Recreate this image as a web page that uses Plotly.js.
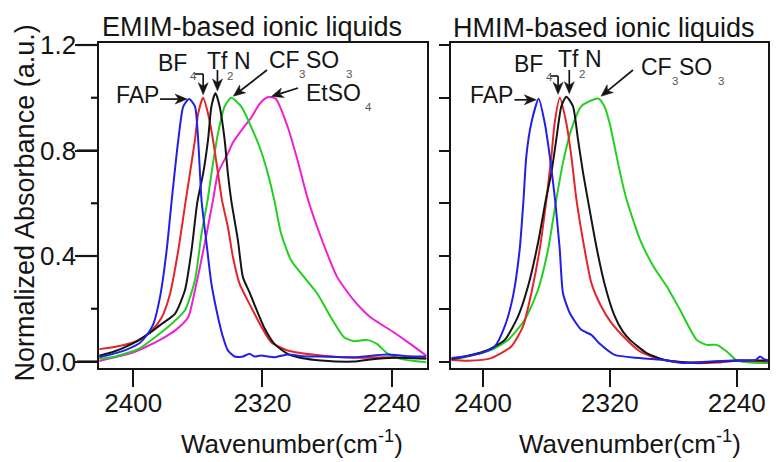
<!DOCTYPE html>
<html><head><meta charset="utf-8">
<script src="https://cdn.plot.ly/plotly-3.0.1.min.js"></script>
<style>html,body{margin:0;padding:0;background:#fff}</style>
</head><body><div id="chart" style="width:783px;height:462px"></div>
<script>
// ---------------- DATA ----------------
// EMIM-based ionic liquids
const emimFapW = [2421, 2413, 2403, 2396, 2392.6, 2387.5, 2383.4, 2379.3, 2376.2, 2372.1, 2369, 2365.4, 2361.8, 2359.8, 2357.7, 2354.6, 2351.6, 2347.5, 2344.4, 2341.4, 2337.2, 2332.1, 2328, 2324.9, 2320.8, 2316, 2312.6, 2304.4, 2295, 2283.9, 2263.4, 2242.9, 2230, 2218.5];
const emimFapA = [0.016, 0.028, 0.048, 0.07, 0.092, 0.143, 0.245, 0.422, 0.61, 0.84, 0.967, 0.995, 0.967, 0.84, 0.61, 0.447, 0.295, 0.168, 0.092, 0.042, 0.019, 0.019, 0.029, 0.019, 0.023, 0.018, 0.016, 0.027, 0.02, 0.019, 0.016, 0.027, 0.02, 0.019];

const emimBf4W = [2421, 2407, 2396.7, 2388.5, 2382.3, 2377.2, 2372.1, 2367.5, 2364.9, 2361.8, 2359.8, 2356.7, 2353.7, 2350.6, 2347.5, 2345, 2341.4, 2338.3, 2334.2, 2327, 2320.5, 2314.6, 2304.4, 2283.9, 2263.4, 2242.9, 2218.5];
const emimBf4A = [0.047, 0.061, 0.08, 0.118, 0.168, 0.257, 0.422, 0.61, 0.713, 0.84, 0.94, 1.0, 0.94, 0.84, 0.713, 0.61, 0.51, 0.397, 0.295, 0.206, 0.13, 0.073, 0.042, 0.023, 0.014, 0.016, 0.011];

const emimTf2nW = [2421, 2413.1, 2400.8, 2390.6, 2382.3, 2374.2, 2368, 2363.9, 2360.3, 2356.7, 2353.7, 2351.6, 2349.1, 2346.5, 2343.4, 2341.4, 2339.3, 2335.2, 2332.1, 2328, 2324.9, 2318.8, 2312.6, 2304.4, 2295, 2283.9, 2263.4, 2253, 2238.8, 2218.5];
const emimTf2nA = [0.022, 0.035, 0.067, 0.105, 0.143, 0.181, 0.27, 0.422, 0.605, 0.713, 0.84, 0.967, 1.018, 0.967, 0.84, 0.713, 0.61, 0.46, 0.32, 0.262, 0.215, 0.127, 0.067, 0.029, 0.012, 0.004, 0.0, 0.008, 0.014, 0.011];

const emimCfW = [2421, 2411, 2396.7, 2386.5, 2376.2, 2368, 2361.8, 2357.7, 2354, 2350.6, 2347.5, 2343.4, 2339.3, 2333.2, 2327, 2321, 2317, 2312.6, 2308.5, 2302.3, 2294.2, 2286, 2277.7, 2269.5, 2263.4, 2255.2, 2249.1, 2242.9, 2234.6, 2218.5];
const emimCfA = [0.01, 0.019, 0.048, 0.092, 0.143, 0.194, 0.308, 0.486, 0.61, 0.752, 0.866, 0.967, 1.0, 0.967, 0.89, 0.8, 0.72, 0.61, 0.486, 0.384, 0.32, 0.257, 0.168, 0.092, 0.077, 0.082, 0.067, 0.032, 0.01, -0.003];

const emimEtW = [2421, 2402.9, 2392.6, 2382.3, 2374, 2366, 2361.8, 2355.7, 2350.6, 2347.5, 2341.3, 2338.3, 2332, 2327, 2322, 2317.7, 2315.7, 2311.6, 2304.4, 2298.3, 2292.1, 2283.9, 2273.7, 2263.4, 2253.1, 2238.8, 2228.5, 2218.5];
const emimEtA = [0.002, 0.029, 0.054, 0.086, 0.118, 0.168, 0.27, 0.449, 0.612, 0.715, 0.79, 0.83, 0.885, 0.924, 0.975, 1.0, 1.003, 0.995, 0.89, 0.764, 0.62, 0.473, 0.32, 0.232, 0.168, 0.111, 0.067, 0.022];

// HMIM-based ionic liquids
const hmimFapW = [2420, 2411.5, 2401, 2392.6, 2386.3, 2381.1, 2376.9, 2374.5, 2372.7, 2369.5, 2364.9, 2361.1, 2357.9, 2354.5, 2351.6, 2349.6, 2345.3, 2338, 2331.7, 2326, 2317, 2301, 2284.2, 2273.7, 2256.9, 2242.2, 2228, 2225.3, 2222.8, 2220];
const hmimFapA = [0.013, 0.019, 0.032, 0.057, 0.133, 0.247, 0.424, 0.61, 0.778, 0.905, 0.996, 0.905, 0.778, 0.61, 0.424, 0.26, 0.184, 0.12, 0.101, 0.065, 0.025, 0.013, 0.004, -0.006, 0.0, 0.004, 0.006, 0.019, 0.009, 0.004];

const hmimBf4W = [2420, 2409.5, 2394.8, 2382.2, 2374.8, 2369.5, 2364.3, 2360.1, 2356.9, 2354.8, 2351.6, 2347.5, 2344.3, 2341, 2335.9, 2331.7, 2326, 2319.5, 2311.5, 2301, 2288.4, 2267.4, 2252.7, 2238, 2220];
const hmimBf4A = [0.006, 0.003, 0.013, 0.057, 0.133, 0.26, 0.424, 0.61, 0.778, 0.905, 1.0, 0.905, 0.778, 0.61, 0.424, 0.298, 0.215, 0.15, 0.095, 0.038, 0.009, -0.006, -0.004, 0.004, 0.0];

const hmimTf2nW = [2420, 2409.5, 2396.8, 2386.3, 2377.9, 2371.6, 2365.3, 2360.5, 2356.9, 2353.8, 2350.6, 2347.5, 2343.3, 2340.1, 2336.9, 2333.8, 2328.5, 2323.5, 2317.5, 2312, 2307.3, 2296.8, 2284.2, 2263.2, 2238, 2220];
const hmimTf2nA = [0.009, 0.022, 0.044, 0.082, 0.171, 0.285, 0.45, 0.61, 0.715, 0.842, 0.968, 1.004, 0.968, 0.842, 0.715, 0.61, 0.435, 0.298, 0.18, 0.115, 0.082, 0.032, 0.004, -0.004, 0.004, 0.004];

const hmimCfW = [2420, 2409.5, 2394.8, 2384.2, 2373.7, 2365.3, 2359, 2353.8, 2349.6, 2344.3, 2338, 2327.5, 2323.5, 2320, 2316.5, 2313, 2309.5, 2305, 2301, 2292.6, 2284.2, 2275.8, 2265.3, 2259, 2252.7, 2246.3, 2240, 2231.7, 2220];
const hmimCfA = [0.006, 0.019, 0.044, 0.082, 0.158, 0.272, 0.424, 0.614, 0.753, 0.88, 0.968, 0.997, 0.968, 0.9, 0.8, 0.7, 0.615, 0.53, 0.462, 0.361, 0.285, 0.196, 0.082, 0.063, 0.063, 0.038, 0.004, -0.004, -0.006];

const xTickVals = [2400, 2320, 2240];
const yTickVals = [0, 0.4, 0.8, 1.2];
const yTickText = ['0.0', '0.4', '0.8', '1.2'];
const yMinorVals = [0.2, 0.6, 1.0];
const yAllVals = [0, 0.2, 0.4, 0.6, 0.8, 1.0, 1.2];

// ---------------- STYLE / LAYOUT ----------------
const W = 783, H = 462;
const FONT = 'Liberation Sans, Arial, Helvetica, sans-serif';
const INK = '#151515';
const C = {fap: '#2020e8', bf4: '#e42529', tf2n: '#141414', cf: '#22d022', et: '#f21ed4'};

const PL = {x0: 99, x1: 426.7, r0: 2421.2, r1: 2218.3};
const PR = {x0: 451.3, x1: 768.3, r0: 2420, r1: 2220.1};
const YB = {top: 43, bottom: 368, r0: -0.0246, r1: 1.2076};

const fx = (p, w) => p.x0 + (w - p.r0) / (p.r1 - p.r0) * (p.x1 - p.x0);
const fy = v => YB.bottom - (v - YB.r0) / (YB.r1 - YB.r0) * (YB.bottom - YB.top);
function peakPx(p, ws, as) {
  let k = 0; for (let i = 1; i < as.length; i++) if (as[i] > as[k]) k = i;
  return [fx(p, ws[k]), fy(as[k])];
}

function tr(ws, as, color, xa, ya) {
  return {x: ws, y: as, type: 'scatter', mode: 'lines', xaxis: xa, yaxis: ya,
    line: {color: color, width: 2, shape: 'spline', smoothing: 0.6}, hoverinfo: 'skip'};
}
const data = [
  tr(emimEtW, emimEtA, C.et, 'x', 'y'),
  tr(emimCfW, emimCfA, C.cf, 'x', 'y'),
  tr(emimBf4W, emimBf4A, C.bf4, 'x', 'y'),
  tr(emimTf2nW, emimTf2nA, C.tf2n, 'x', 'y'),
  tr(emimFapW, emimFapA, C.fap, 'x', 'y'),
  tr(hmimCfW, hmimCfA, C.cf, 'x2', 'y2'),
  tr(hmimBf4W, hmimBf4A, C.bf4, 'x2', 'y2'),
  tr(hmimTf2nW, hmimTf2nA, C.tf2n, 'x2', 'y2'),
  tr(hmimFapW, hmimFapA, C.fap, 'x2', 'y2')
];

const X = px => px / W, Yp = py => 1 - py / H;
function txt(text, x, y, size, anchor, color, angle) {
  return {xref: 'paper', yref: 'paper', x: X(x), y: Yp(y), text: text, showarrow: false,
    xanchor: anchor || 'left', yanchor: 'middle', textangle: angle || 0,
    font: {family: FONT, size: size, color: color || INK}, borderpad: 0};
}
function seg(x0, y0, x1, y1, w) {
  return {type: 'line', xref: 'paper', yref: 'paper', x0: X(x0), y0: Yp(y0), x1: X(x1), y1: Yp(y1),
    line: {color: INK, width: w || 1.6}, layer: 'above'};
}
// arrow drawn as a line plus a notched, filled head (tip at tx,ty; tail at sx,sy)
function arrowShapes(tx, ty, sx, sy) {
  const L = Math.hypot(tx - sx, ty - sy), dx = (tx - sx) / L, dy = (ty - sy) / L;
  const nx = -dy, ny = dx, Lh = 12, Hw = 5, notch = 3.5;
  const bx = tx - dx * Lh, by = ty - dy * Lh;
  const mx = tx - dx * (Lh - notch), my = ty - dy * (Lh - notch);
  const pts = [[tx, ty], [bx + nx * Hw, by + ny * Hw], [mx, my], [bx - nx * Hw, by - ny * Hw]];
  const path = 'M' + pts.map(q => X(q[0]).toFixed(5) + ',' + Yp(q[1]).toFixed(5)).join(' L') + ' Z';
  return [seg(sx, sy, mx, my, 1.7),
    {type: 'path', xref: 'paper', yref: 'paper', path: path, fillcolor: INK, line: {color: INK, width: 0.5}, layer: 'above'}];
}

const LS = 23, SS = 11.5, SUBC = '#555';
const ann = [];
const shapes = [];
// y ticks and labels of the left panel (long major, short minor), placed through the same y scale
yTickVals.forEach((v, i) => {
  shapes.push(seg(PL.x0 - 22, fy(v), PL.x0 - 1, fy(v), 2.2));
  ann.push(txt(yTickText[i], 76.5, fy(v), 26, 'right'));
});
yMinorVals.forEach(v => shapes.push(seg(PL.x0 - 8, fy(v), PL.x0 - 1, fy(v), 2.2)));

// panel titles
ann.push(txt('EMIM-based ionic liquids', 251.5, 27, 27, 'center'));
ann.push(txt('HMIM-based ionic liquids', 603.5, 27.5, 27, 'center'));
// axis titles
ann.push(txt('Wavenumber(cm<sup>-1</sup>)', 292, 442.5, 26, 'center'));
ann.push(txt('Wavenumber(cm<sup>-1</sup>)', 630, 442.5, 26, 'center'));
ann.push(txt('Normalized Absorbance (a.u.)', 24, 203.5, 27, 'center', INK, -90));

// ----- left panel labels -----
let p;
p = peakPx(PL, emimFapW, emimFapA);
ann.push(txt('FAP', 160, 95, LS, 'right'));
shapes.push(...arrowShapes(p[0] - 2, p[1], 160, p[1]));

p = peakPx(PL, emimBf4W, emimBf4A);
ann.push(txt('BF', 157, 63, LS));
ann.push(txt('4', 188.5, 76, SS, 'left', SUBC));
shapes.push(seg(195, 74, p[0], 74));
shapes.push(...arrowShapes(p[0], p[1] - 3, p[0], 74));

p = peakPx(PL, emimTf2nW, emimTf2nA);
ann.push(txt('Tf', 206, 61, LS));
ann.push(txt('2', 225.5, 76, SS, 'left', SUBC));
ann.push(txt('N', 233, 61, LS));
shapes.push(...arrowShapes(p[0] + 2, p[1] - 2, p[0] + 2, 70));

p = peakPx(PL, emimCfW, emimCfA);
ann.push(txt('CF', 267.5, 60.5, LS));
ann.push(txt('3', 298, 74.5, SS, 'left', SUBC));
ann.push(txt('SO', 304.5, 60.5, LS));
ann.push(txt('3', 344.5, 74, SS, 'left', SUBC));
shapes.push(...arrowShapes(p[0] + 2, p[1] - 1.5, 267, 70));

p = peakPx(PL, emimEtW, emimEtA);
ann.push(txt('EtSO', 305, 93, LS));
ann.push(txt('4', 363.5, 106.5, SS, 'left', SUBC));
shapes.push(...arrowShapes(p[0] + 2, p[1] - 0.5, 298, 88));

// ----- right panel labels -----
p = peakPx(PR, hmimFapW, hmimFapA);
ann.push(txt('FAP', 513.5, 95, LS, 'right'));
shapes.push(...arrowShapes(p[0] - 2.4, p[1] + 1, 514.5, p[1] + 1));

p = peakPx(PR, hmimBf4W, hmimBf4A);
ann.push(txt('BF', 513, 63.5, LS));
ann.push(txt('4', 545, 77, SS, 'left', SUBC));
shapes.push(seg(550, 76, p[0] - 1.7, 76));
shapes.push(...arrowShapes(p[0] - 1.7, p[1] - 3.5, p[0] - 1.7, 76));

p = peakPx(PR, hmimTf2nW, hmimTf2nA);
ann.push(txt('Tf', 557, 59, LS));
ann.push(txt('2', 578, 74, SS, 'left', SUBC));
ann.push(txt('N', 584, 59, LS));
shapes.push(...arrowShapes(p[0] + 3, p[1] - 3, p[0] + 3, 70));

p = peakPx(PR, hmimCfW, hmimCfA);
ann.push(txt('CF', 640, 67, LS));
ann.push(txt('3', 671, 81, SS, 'left', SUBC));
ann.push(txt('SO', 678, 67, LS));
ann.push(txt('3', 716.5, 81, SS, 'left', SUBC));
shapes.push(...arrowShapes(p[0] + 3, p[1] - 2.3, 633, 70));

const tickFont = {family: FONT, size: 26, color: INK};
const baseAxis = {showline: true, linewidth: 2, linecolor: INK, mirror: true, showgrid: false,
  zeroline: false, ticks: 'outside', tickwidth: 2, tickcolor: INK, tickfont: tickFont, fixedrange: true};
const yDom = [1 - YB.bottom / H, 1 - YB.top / H];

const layout = {
  width: W, height: H, autosize: false, showlegend: false,
  margin: {l: 0, r: 0, t: 0, b: 0, pad: 0},
  paper_bgcolor: '#fff', plot_bgcolor: '#fff',
  xaxis: Object.assign({}, baseAxis, {domain: [PL.x0 / W, PL.x1 / W], range: [PL.r0, PL.r1], anchor: 'y',
    tickmode: 'array', tickvals: xTickVals, ticklen: 17, ticklabelstandoff: -6}),
  yaxis: Object.assign({}, baseAxis, {domain: yDom, range: [YB.r0, YB.r1], anchor: 'x',
    tickmode: 'array', tickvals: yTickVals, ticklen: 22, showticklabels: false}),
  xaxis2: Object.assign({}, baseAxis, {domain: [PR.x0 / W, PR.x1 / W], range: [PR.r0, PR.r1], anchor: 'y2',
    tickmode: 'array', tickvals: xTickVals, ticklen: 17, ticklabelstandoff: -6}),
  yaxis2: Object.assign({}, baseAxis, {domain: yDom, range: [YB.r0, YB.r1], anchor: 'x2',
    tickmode: 'array', tickvals: yAllVals, ticklen: 10, showticklabels: false}),
  annotations: ann,
  shapes: shapes
};

Plotly.newPlot('chart', data, layout, {displayModeBar: false, staticPlot: true}).then(gd => {
  // drop the empty axis-title text nodes that Plotly leaves behind
  gd.querySelectorAll('text').forEach(t => { if (!t.textContent.trim()) t.remove(); });
});
</script></body></html>
